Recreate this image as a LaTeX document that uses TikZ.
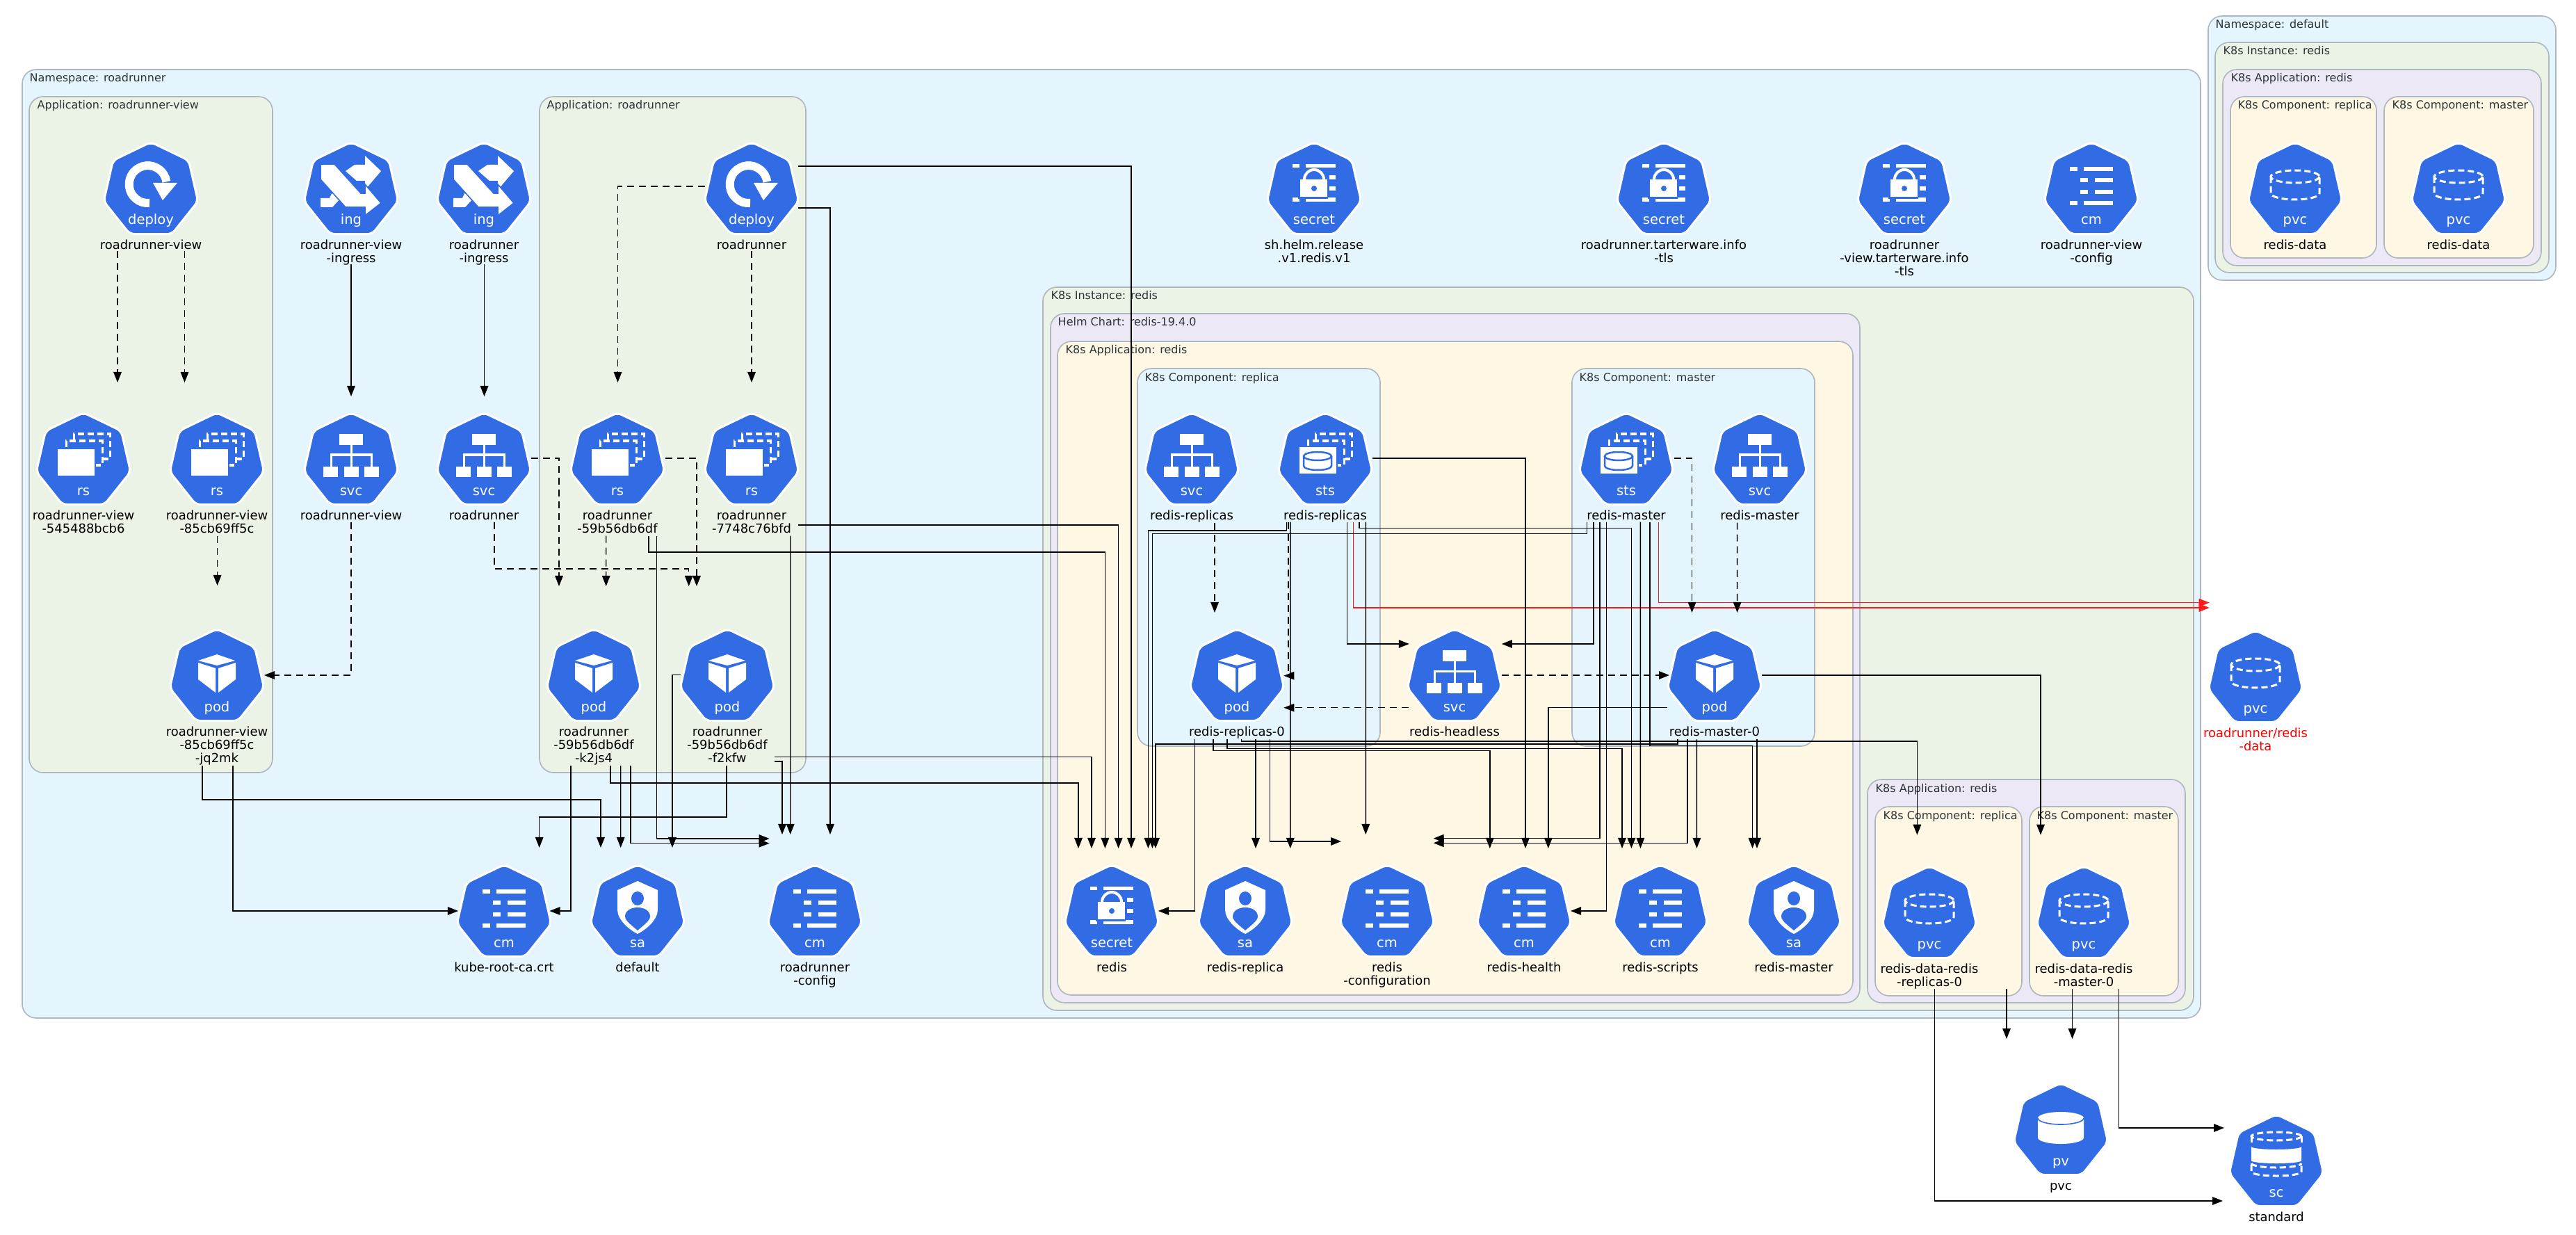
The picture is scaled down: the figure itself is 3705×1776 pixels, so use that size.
\documentclass[tikz,border=0pt]{standalone}
\usepackage{fontspec}
\usepackage{xcolor}
\setmainfont{DejaVu Sans}
\usetikzlibrary{arrows.meta,positioning,calc,shapes.geometric}

\definecolor{nsblue}{HTML}{E5F5FD}
\definecolor{instgreen}{HTML}{EBF3E7}
\definecolor{helmviolet}{HTML}{ECE8F6}
\definecolor{appyellow}{HTML}{FDF7E3}
\definecolor{edgegray}{HTML}{AEB6BE}
\definecolor{titlegray}{HTML}{2D3436}
\definecolor{kubeblue}{HTML}{326CE5}

\tikzset{
  cluster/.style={draw=edgegray, line width=0.016cm, rounded corners=0.2cm},
  ctitle/.style={anchor=base west, inner sep=0pt, text=titlegray, font=\fontsize{4.55}{5}\selectfont},
  kube/.style={regular polygon, regular polygon sides=7, minimum size=1.39cm, inner sep=0pt, outer sep=0pt,
    fill=kubeblue, draw=white, line width=0.03cm, rounded corners=0.07cm},
  kind/.style={anchor=base, inner sep=0pt, text=white, font=\fontsize{5.55}{6}\selectfont},
  lbl/.style={inner sep=0pt, align=center, font=\fontsize{5.1}{5.4}\selectfont},
  solidlink/.style={->, line width=0.014cm},
  dashlink/.style={->, line width=0.014cm, dash pattern=on 0.1cm off 0.07cm},
  redlink/.style={->, line width=0.014cm, red, draw=red!90},
  stroke/.style={draw=white, line width=0.03cm},
  dashstroke/.style={draw=white, line width=0.03cm, dash pattern=on 0.09cm off 0.05cm},
  podglyph/.pic={
    \fill[white] (-27,-24) -- (0,-33) -- (26,-24) -- (0,-17) -- cycle;
    \fill[white] (-27,-21) -- (-2,-13) -- (-2,22) -- (-27,3) -- cycle;
    \fill[white] (2,-13) -- (27,-21) -- (27,3) -- (2,22) -- cycle;
  },
  svcglyph/.pic={
    \fill[white] (-17,-39) rectangle (17,-23);
    \fill[white] (-40,8) rectangle (-19,23);
    \fill[white] (-10,8) rectangle (11,23);
    \fill[white] (19,8) rectangle (40,23);
    \draw[stroke] (0,-23) -- (0,8);
    \draw[stroke] (-29,8) -- (-29,-9) -- (29,-9) -- (29,8);
  },
  rsglyph/.pic={
    \draw[dashstroke] (-14,-31) -- (-14,-39) -- (38,-39) -- (38,-3) -- (29,-3);
    \draw[dashstroke] (-25,-20) -- (-25,-29) -- (27,-29) -- (27,6) -- (18,6);
    \fill[white] (-37,-17) rectangle (16,21);
  },
  stsglyph/.pic={
    \draw[dashstroke] (-14,-31) -- (-14,-39) -- (38,-39) -- (38,-3) -- (29,-3);
    \draw[dashstroke] (-25,-22) -- (-25,-29) -- (27,-29) -- (27,6) -- (18,6);
    \fill[white] (-37,-20) rectangle (16,18);
    \draw[kubeblue, line width=0.025cm] (-11,-7) ellipse (20 and 6);
    \draw[kubeblue, line width=0.025cm] (-31,-7) -- (-31,7) arc[start angle=180, end angle=0, x radius=20, y radius=6] -- (9,-7);
  },
  deployglyph/.pic={
    \draw[white, line width=0.12cm] (-2,18) arc[start angle=85, end angle=352, radius=27];
    \fill[white] (3,-11) -- (38,-11) -- (17,14) -- cycle;
  },
  ingglyph/.pic={
    \fill[white] (-44,11) -- (-31,11) -- (-25,-2) -- (-15,11) -- (-27,24) -- (-44,24) -- cycle;
    \fill[white] (-8,-28) -- (5,-37) -- (20,-37) -- (20,-50) -- (43,-28) -- (20,-1) -- (20,-14) -- (8,-14) -- cycle;
    \fill[white, draw=kubeblue, line width=0.016cm] (-44,-38) -- (-24,-38) -- (14,4) -- (20,4) -- (20,-9) -- (43,18) -- (20,36) -- (20,24) -- (-8,24) -- (-44,-16) -- cycle;
  },
  cmglyph/.pic={
    \fill[white] (-31,-34) rectangle (-20,-28);
    \fill[white] (-11,-34) rectangle (31,-28);
    \fill[white] (-16,-18) rectangle (-5,-12);
    \fill[white] (5,-18) rectangle (31,-12);
    \fill[white] (-16,-1) rectangle (-5,5);
    \fill[white] (5,-1) rectangle (31,5);
    \fill[white] (-31,15) rectangle (-20,21);
    \fill[white] (-11,15) rectangle (31,21);
  },
  secretglyph/.pic={
    \fill[white] (-31,-38) rectangle (-21,-33);
    \fill[white] (-12,-38) rectangle (31,-33);
    \fill[white] (22,-22) rectangle (31,-16);
    \fill[white] (22,-6) rectangle (31,0);
    \fill[white] (-31,10) rectangle (-21,16);
    \fill[white] (-12,10) rectangle (31,16);
    \fill[kubeblue] (-23,-30) rectangle (20,12);
    \draw[white, line width=0.04cm] (-14,-16) arc[start angle=180, end angle=360, x radius=14, y radius=14];
    \fill[white] (-20,-16) rectangle (19,9);
    \fill[kubeblue] (0,-3) circle (4);
  },
  saglyph/.pic={
    \fill[white] (0,-46) -- (29,-33) -- (29,-5) .. controls (29,10) and (12,24) .. (0,30)
      .. controls (-12,24) and (-29,10) .. (-29,-5) -- (-29,-33) -- cycle;
    \fill[kubeblue] (0,-21) ellipse (9 and 10);
    \fill[kubeblue] (0,25) .. controls (-8,18) and (-18,11) .. (-18,5) .. controls (-18,-3) and (-10,-8) .. (0,-8)
      .. controls (10,-8) and (18,-3) .. (18,5) .. controls (18,11) and (8,18) .. (0,25) -- cycle;
  },
  pvcglyph/.pic={
    \draw[dashstroke] (0,-20) ellipse (35 and 9);
    \draw[dashstroke] (-35,-20) -- (-35,4) arc[start angle=180, end angle=0, x radius=35, y radius=9] -- (35,-20);
  },
  pvglyph/.pic={
    \fill[white] (-33,-19) -- (-33,9) arc[start angle=180, end angle=0, x radius=33, y radius=9] -- (33,-19)
      arc[start angle=0, end angle=-180, x radius=33, y radius=9] -- cycle;
    \draw[kubeblue, line width=0.016cm] (-33,-19) arc[start angle=180, end angle=0, x radius=33, y radius=9];
  },
  scglyph/.pic={
    \draw[dashstroke] (0,-38) ellipse (36 and 6);
    \draw[dashstroke] (-36,-38) -- (-36,-28);
    \draw[dashstroke] (36,-38) -- (36,-28);
    \fill[white] (-36,-23) arc[start angle=180, end angle=0, x radius=36, y radius=4] -- (36,-3)
      arc[start angle=0, end angle=180, x radius=36, y radius=4] -- cycle;
    \draw[dashstroke] (-36,1) arc[start angle=180, end angle=0, x radius=36, y radius=6];
    \draw[dashstroke] (-36,3) -- (-36,13) arc[start angle=180, end angle=0, x radius=36, y radius=6] -- (36,3);
  }
}

% icon: name, position, glyph, kind text, label
\newcommand{\kubeicon}[5]{%
  \node[kube] (#1) at (#2) {};
  \pic at (#1) {#3};
  \node[kind] (#1-kind) at ($(#1)+(0,49)$) {#4};
  \node[lbl, below=0.075cm of #1] (#1-lbl) {\rule{0pt}{4pt}#5};
}

\begin{document}
\begin{tikzpicture}[x=0.01cm, y=-0.01cm, >={Triangle[length=0.15cm, width=0.115cm]}]
  \useasboundingbox (0,0) rectangle (3705,1776);

  % namespace default
  \draw[cluster, fill=nsblue] (3176,23) rectangle (3676,403);
  \node[ctitle] (nsdefault) at (3186,41) {Namespace: default};
  \draw[cluster, fill=instgreen] (3186,61) rectangle (3666,392);
  \node[ctitle] (instdefault) at (3197,79) {K8s Instance: redis};
  \draw[cluster, fill=helmviolet] (3197,100) rectangle (3655,382);
  \node[ctitle] (appdefault) at (3208,118) {K8s Application: redis};
  \draw[cluster, fill=appyellow] (3208,139) rectangle (3418,371);
  \node[ctitle] (compdefrep) at (3218,157) {K8s Component: replica};
  \draw[cluster, fill=appyellow] (3429,139) rectangle (3644,371);
  \node[ctitle] (compdefmas) at (3440,157) {K8s Component: master};

  % namespace roadrunner
  \draw[cluster, fill=nsblue] (32,100) rectangle (3165,1464);
  \node[ctitle] (nsrr) at (42,118) {Namespace: roadrunner};
  \draw[cluster, fill=instgreen] (42,139) rectangle (392,1111);
  \node[ctitle] (appview) at (53,157) {Application: roadrunner-view};
  \draw[cluster, fill=instgreen] (776,139) rectangle (1159,1111);
  \node[ctitle] (apprr) at (786,157) {Application: roadrunner};

  % instance redis
  \draw[cluster, fill=instgreen] (1500,413) rectangle (3155,1453);
  \node[ctitle] (instredis) at (1511,431) {K8s Instance: redis};
  \draw[cluster, fill=helmviolet] (1511,451) rectangle (2675,1442);
  \node[ctitle] (helmredis) at (1521,469) {Helm Chart: redis-19.4.0};
  \draw[cluster, fill=appyellow] (1521,491) rectangle (2665,1431);
  \node[ctitle] (appredis) at (1532,509) {K8s Application: redis};
  \draw[cluster, fill=nsblue] (1636,530) rectangle (1985,1073);
  \node[ctitle] (comprep) at (1646,548) {K8s Component: replica};
  \draw[cluster, fill=nsblue] (2261,530) rectangle (2610,1073);
  \node[ctitle] (compmas) at (2271,548) {K8s Component: master};
  \draw[cluster, fill=helmviolet] (2686,1121) rectangle (3143,1442);
  \node[ctitle] (apppvc) at (2697,1139) {K8s Application: redis};
  \draw[cluster, fill=appyellow] (2697,1160) rectangle (2908,1432);
  \node[ctitle] (comppvcrep) at (2708,1178) {K8s Component: replica};
  \draw[cluster, fill=appyellow] (2919,1160) rectangle (3133,1432);
  \node[ctitle] (comppvcmas) at (2929,1178) {K8s Component: master};

  % top row
  \kubeicon{dv}{217,274}{deployglyph}{deploy}{roadrunner-view}
  \kubeicon{ingv}{505,274}{ingglyph}{ing}{roadrunner-view\\-ingress}
  \kubeicon{ingr}{696,274}{ingglyph}{ing}{roadrunner\\-ingress}
  \kubeicon{dr}{1081,274}{deployglyph}{deploy}{roadrunner}
  \kubeicon{shelm}{1890,274}{secretglyph}{secret}{sh.helm.release\\.v1.redis.v1}
  \kubeicon{stls}{2393,274}{secretglyph}{secret}{roadrunner.tarterware.info\\-tls}
  \kubeicon{vtls}{2739,274}{secretglyph}{secret}{roadrunner\\-view.tarterware.info\\-tls}
  \kubeicon{cmview}{3008,274}{cmglyph}{cm}{roadrunner-view\\-config}
  \kubeicon{pvcdr}{3301,274}{pvcglyph}{pvc}{redis-data}
  \kubeicon{pvcdm}{3536,274}{pvcglyph}{pvc}{redis-data}

  % second row
  \kubeicon{rsv1}{120,663}{rsglyph}{rs}{roadrunner-view\\-545488bcb6}
  \kubeicon{rsv2}{312,663}{rsglyph}{rs}{roadrunner-view\\-85cb69ff5c}
  \kubeicon{svcv}{505,663}{svcglyph}{svc}{roadrunner-view}
  \kubeicon{svcr}{696,663}{svcglyph}{svc}{roadrunner}
  \kubeicon{rsr1}{888,663}{rsglyph}{rs}{roadrunner\\-59b56db6df}
  \kubeicon{rsr2}{1081,663}{rsglyph}{rs}{roadrunner\\-7748c76bfd}
  \kubeicon{svcrep}{1714,663}{svcglyph}{svc}{redis-replicas}
  \kubeicon{stsrep}{1906,663}{stsglyph}{sts}{redis-replicas}
  \kubeicon{stsmas}{2339,663}{stsglyph}{sts}{redis-master}
  \kubeicon{svcmas}{2531,663}{svcglyph}{svc}{redis-master}

  % third row
  \kubeicon{podv}{312,974}{podglyph}{pod}{roadrunner-view\\-85cb69ff5c\\-jq2mk}
  \kubeicon{podr1}{854,974}{podglyph}{pod}{roadrunner\\-59b56db6df\\-k2js4}
  \kubeicon{podr2}{1046,974}{podglyph}{pod}{roadrunner\\-59b56db6df\\-f2kfw}
  \kubeicon{podrep}{1779,974}{podglyph}{pod}{redis-replicas-0}
  \kubeicon{hless}{2092,974}{svcglyph}{svc}{redis-headless}
  \kubeicon{podmas}{2466,974}{podglyph}{pod}{redis-master-0}
  \kubeicon{pvcrr}{3244,976}{pvcglyph}{pvc}{\textcolor{red}{roadrunner/redis}\\\textcolor{red}{-data}}

  % bottom row
  \kubeicon{cmca}{725,1313}{cmglyph}{cm}{kube-root-ca.crt}
  \kubeicon{sadef}{917,1313}{saglyph}{sa}{default}
  \kubeicon{cmcfg}{1172,1313}{cmglyph}{cm}{roadrunner\\-config}
  \kubeicon{sec}{1599,1313}{secretglyph}{secret}{redis}
  \kubeicon{sarep}{1791,1313}{saglyph}{sa}{redis-replica}
  \kubeicon{cmconf}{1995,1313}{cmglyph}{cm}{redis\\-configuration}
  \kubeicon{cmhealth}{2192,1313}{cmglyph}{cm}{redis-health}
  \kubeicon{cmscr}{2388,1313}{cmglyph}{cm}{redis-scripts}
  \kubeicon{samas}{2580,1313}{saglyph}{sa}{redis-master}
  \kubeicon{pvcrep}{2775,1315}{pvcglyph}{pvc}{redis-data-redis\\-replicas-0}
  \kubeicon{pvcmas}{2997,1315}{pvcglyph}{pvc}{redis-data-redis\\-master-0}
  \kubeicon{pv}{2964,1627}{pvglyph}{pv}{pvc}
  \kubeicon{sc}{3274,1672}{scglyph}{sc}{standard}

  % roadrunner owners
  \draw[dashlink] ($(dv)+(-48,87)$) -- ($(rsv1)+(49,-113)$);
  \draw[dashlink] ($(dv)+(48.5,87)$) -- ($(rsv2)+(-46.5,-113)$);
  \draw[dashlink] ($(rsv2)+(0.6,108)$) -- ($(podv)+(0.6,-132)$);
  \draw[solidlink] ($(ingv)+(0,106)$) -- ($(svcv)+(0,-93)$);
  \draw[solidlink] ($(ingr)+(0.5,106)$) -- ($(svcr)+(0.5,-93)$);
  \draw[dashlink] ($(svcv)+(0,88)$) |- ($(podv)+(68,-3)$);
  \draw[dashlink] ($(dr)+(-67,-6)$) -| ($(rsr1)+(0.5,-113)$);
  \draw[dashlink] ($(dr)+(0,87)$) -- ($(rsr2)+(0,-113)$);
  \draw[dashlink] ($(svcr)+(68,-4)$) -| ($(podr1)+(-50,-131)$);
  \draw[dashlink] ($(svcr)+(15,88)$) -- ++(0,67) -| ($(podr2)+(-55.3,-131)$);
  \draw[dashlink] ($(rsr1)+(-16.3,107.7)$) -- ($(podr1)+(17.7,-131)$);
  \draw[dashlink] ($(rsr1)+(68.6,-4)$) -| ($(podr2)+(-44,-131)$);

  % roadrunner to config and secret
  \draw[solidlink] ($(rsr1)+(45,107.7)$) -- ++(0,23.3) -| ($(sec)+(-9.6,-93)$);
  \draw[solidlink] ($(rsr1)+(56.7,107.7)$) |- ($(cmcfg)+(-65.3,-107)$);
  \draw[solidlink] ($(rsr2)+(67,92)$) -| ($(sec)+(9.6,-93)$);
  \draw[solidlink] ($(rsr2)+(55.7,107.7)$) -- ($(cmcfg)+(-35.3,-113)$);
  \draw[solidlink] ($(dr)+(67,-35)$) -| ($(sec)+(28,-93)$);
  \draw[solidlink] ($(dr)+(67,25)$) -| ($(cmcfg)+(22,-113)$);
  \draw[solidlink] ($(podr1)+(-33,127)$) |- ($(cmca)+(65.5,-3)$);
  \draw[solidlink] ($(podr1)+(24,127)$) -- ++(0,25) -| ($(sec)+(-48,-93)$);
  \draw[solidlink] ($(podr1)+(38.7,127)$) -- ($(sadef)+(-24.3,-94)$);
  \draw[solidlink] ($(podr1)+(53,127)$) |- ($(cmcfg)+(-65.3,-100.3)$);
  \draw[solidlink] ($(podr2)+(-67,-3.3)$) -| ($(sadef)+(50,-94)$);
  \draw[solidlink] ($(podr2)+(-1,127)$) -- ++(0,74) -| ($(cmca)+(50.7,-94)$);
  \draw[solidlink] ($(podr2)+(68,121)$) -| ($(cmcfg)+(-47,-113)$);
  \draw[solidlink] ($(podr2)+(68,114.7)$) -| ($(sec)+(-29,-93)$);
  \draw[solidlink] ($(podv)+(-21,127)$) -- ++(0,49) -| ($(sadef)+(-53,-94)$);
  \draw[solidlink] ($(podv)+(23,127)$) |- ($(cmca)+(-66,-3)$);

  % redis replica side
  \draw[dashlink] ($(svcrep)+(33,88.7)$) -- ($(podrep)+(-32,-93)$);
  \draw[solidlink] ($(stsrep)+(-55.6,87.7)$) -- ++(0,12.3) -| ($(sec)+(52.4,-93)$);
  \draw[dashlink] ($(stsrep)+(-53,87.7)$) |- ($(podrep)+(67.4,-2.3)$);
  \draw[solidlink] ($(stsrep)+(-50.2,87.7)$) -- ($(sarep)+(64.8,-93)$);
  \draw[solidlink] ($(stsrep)+(31.5,87.7)$) |- ($(hless)+(-65.2,-48)$);
  \draw[redlink] ($(stsrep)+(40.4,87.7)$) |- ($(pvcrr)+(-66.3,-102)$);
  \draw[solidlink] ($(stsrep)+(49,87.7)$) -- ++(0,8.6) -| ($(cmscr)+(-41.6,-93)$);
  \draw[solidlink] ($(stsrep)+(58.3,87.7)$) -- ($(cmconf)+(-30.7,-113)$);
  \draw[solidlink] ($(stsrep)+(67.6,-4)$) -| ($(cmhealth)+(2,-93)$);

  % redis master side
  \draw[solidlink] ($(stsmas)+(-56.7,87.7)$) -- ++(0,16.6) -| ($(sec)+(58.5,-93)$);
  \draw[solidlink] ($(stsmas)+(-47.2,87.7)$) |- ($(hless)+(67.8,-48)$);
  \draw[solidlink] ($(stsmas)+(-38.2,87.7)$) |- ($(cmconf)+(66.7,-107.3)$);
  \draw[solidlink] ($(stsmas)+(-28.7,87.7)$) |- ($(cmhealth)+(67,-3)$);
  \draw[solidlink] ($(stsmas)+(20.4,87.7)$) -- ($(cmscr)+(-28.6,-93)$);
  \draw[solidlink] ($(stsmas)+(33.8,87.7)$) -- ++(0,321.7) -| ($(samas)+(-59.5,-93)$);
  \draw[redlink] ($(stsmas)+(46.6,87.7)$) |- ($(pvcrr)+(-66.3,-109.3)$);
  \draw[dashlink] ($(stsmas)+(68.5,-4)$) -| ($(podmas)+(-32.5,-93)$);
  \draw[dashlink] ($(svcmas)+(-32.4,88.7)$) -- ($(podmas)+(32.6,-93)$);

  % headless service
  \draw[dashlink] ($(hless)+(67.8,-3)$) -- ($(podmas)+(-65,-3)$);
  \draw[dashlink] ($(hless)+(-66,43.7)$) -- ($(podrep)+(67.4,43.7)$);

  % pods
  \draw[solidlink] ($(podmas)+(68,-3)$) -| ($(pvcmas)+(-62,-114.3)$);
  \draw[solidlink] ($(podmas)+(-68.3,43.7)$) -| ($(cmhealth)+(34.8,-93)$);
  \draw[solidlink] ($(podmas)+(-53,89.3)$) -- ++(0,6.7) -| ($(sec)+(63,-93)$);
  \draw[solidlink] ($(podmas)+(-39,89.3)$) |- ($(cmconf)+(66.7,-100.7)$);
  \draw[solidlink] ($(podmas)+(-25.6,89.3)$) -- ($(cmscr)+(52.4,-93)$);
  \draw[solidlink] ($(podmas)+(61,89.3)$) -- ($(samas)+(-53,-93)$);
  \draw[solidlink] ($(podrep)+(-60.6,89.3)$) |- ($(sec)+(67,-3)$);
  \draw[solidlink] ($(podrep)+(-34,89.3)$) -- ++(0,16) -| ($(cmhealth)+(-49.2,-93)$);
  \draw[solidlink] ($(podrep)+(-14.2,89.3)$) -- ++(0,13.4) -| ($(cmscr)+(-55,-93)$);
  \draw[solidlink] ($(podrep)+(6.7,89.3)$) -- ++(0,2.7) -| ($(pvcrep)+(-17.6,-114.3)$);
  \draw[solidlink] ($(podrep)+(27,89.3)$) -- ($(sarep)+(15,-93)$);
  \draw[solidlink] ($(podrep)+(47.5,89.3)$) |- ($(cmconf)+(-66,-103)$);

  % volumes
  \draw[solidlink] ($(pvcrep)+(7.5,106.8)$) |- ($(sc)+(-77,55)$);
  \draw[solidlink] ($(pvcrep)+(111,106.8)$) -- ($(pv)+(-78,-133)$);
  \draw[solidlink] ($(pvcmas)+(-16.5,106.8)$) -- ($(pv)+(16.5,-133)$);
  \draw[solidlink] ($(pvcmas)+(50.5,106.8)$) |- ($(sc)+(-75,-50)$);
\end{tikzpicture}
\end{document}
